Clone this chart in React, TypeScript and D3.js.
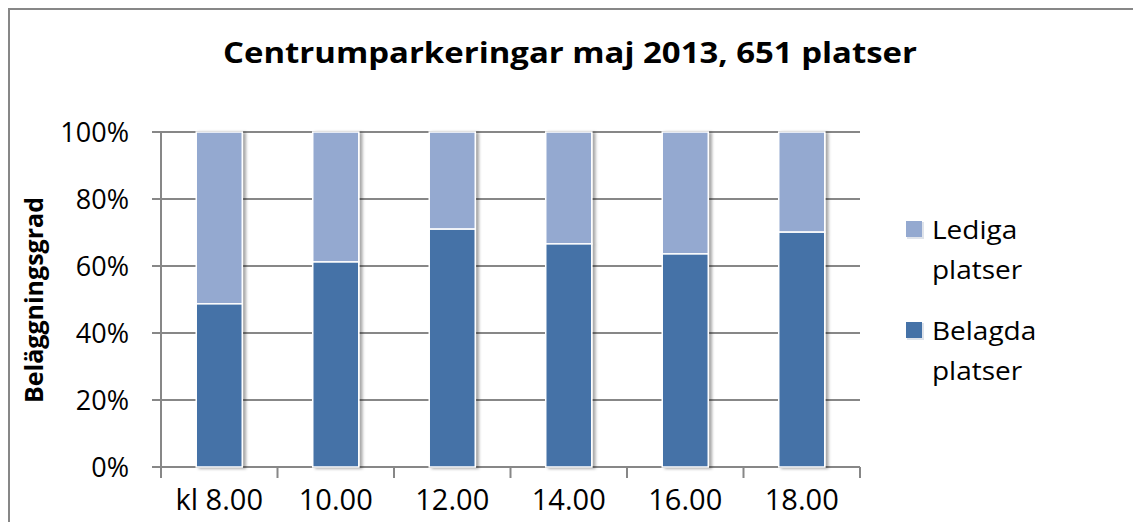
import React from "react";
import * as d3 from "d3";

const categories = ["kl 8.00", "10.00", "12.00", "14.00", "16.00", "18.00"];
const belagda = [0.487, 0.612, 0.71, 0.666, 0.636, 0.701];
const yTicks = [0, 0.2, 0.4, 0.6, 0.8, 1.0];
const seriesNames = ["Lediga platser", "Belagda platser"];
const title = "Centrumparkeringar maj 2013, 651 platser";
const yTitle = "Beläggningsgrad";

const W = 1133;
const H = 522;
const FONT = "'Open Sans', 'Noto Sans', sans-serif";
const DARK = "#4572a7";
const LIGHT = "#94a9d0";
const GRID = "#878787";

function SText(props: {
  x: number;
  y: number;
  sx?: number;
  anchor?: string;
  size: number;
  bold?: boolean;
  dy?: string;
  children: React.ReactNode;
}) {
  const { x, y, sx = 1, anchor = "start", size, bold, dy, children } = props;
  return (
    <g transform={`translate(${x},${y}) scale(${sx},1)`}>
      <text
        x={0}
        y={0}
        dy={dy}
        textAnchor={anchor}
        fontSize={size}
        fontWeight={bold ? "bold" : "normal"}
        fill="#000"
      >
        {children}
      </text>
    </g>
  );
}

export default function App() {
  const x = d3
    .scaleBand<string>()
    .domain(categories)
    .range([161, 860])
    .paddingInner(0.605)
    .paddingOuter(0.3025);
  const y = d3.scaleLinear().domain([0, 1]).range([467, 132]);
  const step = x.step();
  const x0 = 161;
  const x1 = 860;
  const bw = x.bandwidth();

  return (
    <svg
      width={W}
      height={H}
      style={{ position: "absolute", left: 0, top: 0, background: "#fff" }}
      fontFamily={FONT}
    >
      <defs>
        <filter id="sh" x="-20%" y="-5%" width="150%" height="115%">
          <feDropShadow dx="3" dy="1" stdDeviation="1.6" floodColor="#000" floodOpacity="0.35" />
        </filter>
      </defs>
      <rect x={0} y={0} width={W} height={H} fill="#fff" />
      <rect x={9} y={9} width={W + 20} height={H + 20} fill="none" stroke={GRID} strokeWidth={2} />

      <text
        x={570}
        y={63}
        textAnchor="middle"
        fontWeight="bold"
        fontSize={28}
        fill="#000"
        textLength={694}
        lengthAdjust="spacingAndGlyphs"
      >
        {title}
      </text>

      {/* gridlines */}
      {yTicks.map((t) => (
        <line key={"g" + t} x1={152} x2={x1} y1={y(t)} y2={y(t)} stroke={GRID} strokeWidth={2} />
      ))}
      {/* y axis */}
      <line x1={x0} x2={x0} y1={y(1)} y2={y(0)} stroke={GRID} strokeWidth={2} />
      {yTicks.map((t) => (
        <SText key={"yl" + t} x={129} y={y(t)} dy="0.36em" anchor="end" size={27}>
          {d3.format(".0%")(t)}
        </SText>
      ))}
      {/* x ticks */}
      {d3.range(categories.length + 1).map((i) => (
        <line
          key={"xt" + i}
          x1={x0 + i * step}
          x2={x0 + i * step}
          y1={y(0)}
          y2={y(0) + 11}
          stroke={GRID}
          strokeWidth={2}
        />
      ))}

      {/* bars */}
      {categories.map((c, i) => {
        const bx = x(c)!;
        return (
          <g key={c} filter="url(#sh)">
            <rect x={bx} y={y(1)} width={bw} height={y(belagda[i]) - y(1)} fill={LIGHT} stroke="#fff" strokeWidth={1.5} />
            <rect x={bx} y={y(belagda[i])} width={bw} height={y(0) - y(belagda[i])} fill={DARK} stroke="#fff" strokeWidth={1.5} />
          </g>
        );
      })}

      {categories.map((c) => (
        <SText key={"xl" + c} x={x(c)! + bw / 2} y={510} anchor="middle" size={29}>
          {c}
        </SText>
      ))}

      <text
        transform={`translate(43,300) rotate(-90)`}
        textAnchor="middle"
        fontWeight="bold"
        fontSize={25}
        fill="#000"
      >
        {yTitle}
      </text>

      {/* legend */}
      {[
        { name: seriesNames[0], color: LIGHT, y0: 221 },
        { name: seriesNames[1], color: DARK, y0: 322 },
      ].map((l) => {
        const parts = l.name.split(" ");
        return (
          <g key={l.name}>
            <rect x={907} y={l.y0 + 1} width={17} height={17} fill="#dfe3ea" />
            <rect x={906} y={l.y0} width={16} height={16} fill={l.color} />
            <SText x={932} y={l.y0 + 17.5} size={25} sx={1.12}>
              {parts[0]}
            </SText>
            <SText x={932} y={l.y0 + 57.5} size={25} sx={1.12}>
              {parts[1]}
            </SText>
          </g>
        );
      })}
    </svg>
  );
}
